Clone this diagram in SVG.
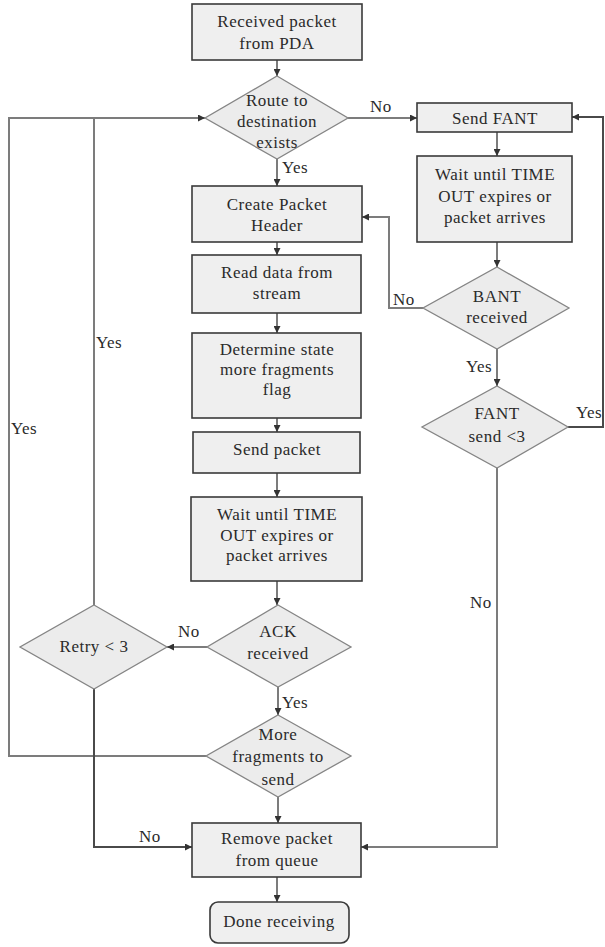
<svg xmlns="http://www.w3.org/2000/svg" width="605" height="947" viewBox="0 0 605 947">
  <defs>
    <style>
      .box { fill: #efefef; stroke: #3a3a3a; stroke-width: 1.6; }
      .dia { fill: #ececec; stroke: #858585; stroke-width: 1.3; }
      .end { fill: #efefef; stroke: #3a3a3a; stroke-width: 1.6; }
      .wire { fill: none; stroke: #7c7c7c; stroke-width: 2; }
      .wire.dark { stroke: #4a4a4a; }
      text { font-size: 17px; fill: #2a2a2a; letter-spacing: 0.5px; }
      .c { text-anchor: middle; }
    </style>
    <marker id="arrow" viewBox="0 0 8 8" refX="8" refY="4" markerWidth="7" markerHeight="7" markerUnits="userSpaceOnUse" orient="auto">
      <path d="M0,0 L8,4 L0,8 z" fill="#333333"/>
    </marker>
  </defs>

  <rect width="605" height="947" fill="#ffffff"/>

  <g font-family="'Liberation Serif', 'Times New Roman', 'DejaVu Serif', serif">
  <!-- connectors -->
  <g id="connectors">
    <path class="wire" d="M277,60 V76" marker-end="url(#arrow)"/>
    <path class="wire" d="M277,159 V186" marker-end="url(#arrow)"/>
    <path class="wire" d="M348,118 H417" marker-end="url(#arrow)"/>
    <path class="wire" d="M497,132 V156" marker-end="url(#arrow)"/>
    <path class="wire" d="M497,242 V267" marker-end="url(#arrow)"/>
    <path class="wire" d="M423,308 H389 V217 H362" marker-end="url(#arrow)"/>
    <path class="wire" d="M497,349 V386" marker-end="url(#arrow)"/>
    <path class="wire dark" d="M568,427 H603 V117 H572" marker-end="url(#arrow)"/>
    <path class="wire" d="M497,468 V847 H361" marker-end="url(#arrow)"/>
    <path class="wire" d="M277,242 V255" marker-end="url(#arrow)"/>
    <path class="wire" d="M277,313 V333" marker-end="url(#arrow)"/>
    <path class="wire" d="M277,418 V432" marker-end="url(#arrow)"/>
    <path class="wire" d="M277,473 V497" marker-end="url(#arrow)"/>
    <path class="wire" d="M277,581 V605" marker-end="url(#arrow)"/>
    <path class="wire" d="M207,647 H167" marker-end="url(#arrow)"/>
    <path class="wire" d="M278,687 V715" marker-end="url(#arrow)"/>
    <path class="wire" d="M278,797 V823" marker-end="url(#arrow)"/>
    <path class="wire" d="M206,756 H9 V118 H205" marker-end="url(#arrow)"/>
    <path class="wire" d="M94,605 V118"/>
    <path class="wire dark" d="M94,689 V847 H192" marker-end="url(#arrow)"/>
    <path class="wire" d="M277,877 V902" marker-end="url(#arrow)"/>

    <!-- branch labels -->
    <text x="370" y="112">No</text>
    <text x="282" y="173">Yes</text>
    <text x="393" y="305">No</text>
    <text x="466" y="372">Yes</text>
    <text x="576" y="418">Yes</text>
    <text x="470" y="608">No</text>
    <text x="96" y="348">Yes</text>
    <text x="11" y="434">Yes</text>
    <text x="178" y="637">No</text>
    <text x="282" y="708">Yes</text>
    <text x="139" y="842">No</text>
  </g>

  <!-- main column -->
  <g id="received">
    <rect class="box" x="192" y="4" width="170" height="56"/>
    <text class="c" x="277" y="27">Received packet</text>
    <text class="c" x="277" y="49">from PDA</text>
  </g>

  <g id="route-exists">
    <polygon class="dia" points="277,76 348,118 277,159 205,118"/>
    <text class="c" x="277" y="106">Route to</text>
    <text class="c" x="277" y="127">destination</text>
    <text class="c" x="277" y="148">exists</text>
  </g>

  <g id="create-header">
    <rect class="box" x="192" y="186" width="170" height="56"/>
    <text class="c" x="277" y="210">Create Packet</text>
    <text class="c" x="277" y="231">Header</text>
  </g>

  <g id="read-data">
    <rect class="box" x="192" y="255" width="169" height="58"/>
    <text class="c" x="277" y="278">Read data from</text>
    <text class="c" x="277" y="299">stream</text>
  </g>

  <g id="determine-state">
    <rect class="box" x="192" y="333" width="169" height="85"/>
    <text class="c" x="277" y="355">Determine state</text>
    <text class="c" x="277" y="375">more fragments</text>
    <text class="c" x="277" y="395">flag</text>
  </g>

  <g id="send-packet">
    <rect class="box" x="193" y="432" width="167" height="41"/>
    <text class="c" x="277" y="455">Send packet</text>
  </g>

  <g id="wait-ack">
    <rect class="box" x="191" y="497" width="171" height="84"/>
    <text class="c" x="277" y="520">Wait until TIME</text>
    <text class="c" x="277" y="541">OUT expires or</text>
    <text class="c" x="277" y="561">packet arrives</text>
  </g>

  <g id="ack-received">
    <polygon class="dia" points="278,605 351,647 278,687 207,647"/>
    <text class="c" x="278" y="637">ACK</text>
    <text class="c" x="278" y="659">received</text>
  </g>

  <g id="retry">
    <polygon class="dia" points="94,605 167,647 94,689 20,647"/>
    <text class="c" x="94" y="652">Retry &lt; 3</text>
  </g>

  <g id="more-fragments">
    <polygon class="dia" points="278,715 351,756 278,797 206,756"/>
    <text class="c" x="278" y="740">More</text>
    <text class="c" x="278" y="762">fragments to</text>
    <text class="c" x="278" y="785">send</text>
  </g>

  <g id="remove-packet">
    <rect class="box" x="192" y="823" width="169" height="54"/>
    <text class="c" x="277" y="844">Remove packet</text>
    <text class="c" x="277" y="866">from queue</text>
  </g>

  <g id="done">
    <rect class="end" x="210" y="902" width="139" height="41" rx="8"/>
    <text class="c" x="279" y="927">Done receiving</text>
  </g>

  <!-- FANT / BANT column -->
  <g id="send-fant">
    <rect class="box" x="417" y="103" width="155" height="29"/>
    <text class="c" x="495" y="124">Send FANT</text>
  </g>

  <g id="wait-bant">
    <rect class="box" x="417" y="156" width="155" height="86"/>
    <text class="c" x="495" y="180">Wait until TIME</text>
    <text class="c" x="495" y="202">OUT expires or</text>
    <text class="c" x="495" y="223">packet arrives</text>
  </g>

  <g id="bant-received">
    <polygon class="dia" points="497,267 569,308 497,349 423,308"/>
    <text class="c" x="497" y="302">BANT</text>
    <text class="c" x="497" y="323">received</text>
  </g>

  <g id="fant-count">
    <polygon class="dia" points="497,386 568,427 497,468 422,427"/>
    <text class="c" x="497" y="419">FANT</text>
    <text class="c" x="497" y="442">send &lt;3</text>
  </g>
  </g>
</svg>
